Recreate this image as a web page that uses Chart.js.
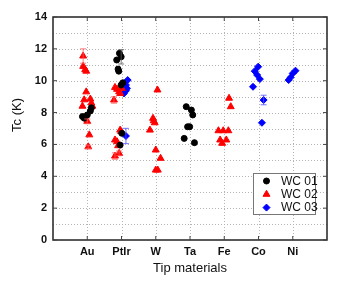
<!DOCTYPE html>
<html>
<head>
<meta charset="utf-8">
<script src="https://cdn.jsdelivr.net/npm/chart.js@4.4.1/dist/chart.umd.min.js"></script>
<style>
  html, body { margin: 0; padding: 0; background: #fff; }
</style>
</head>
<body>
<canvas id="plot" width="337" height="284"></canvas>
<script>
// tip materials on the x axis (positions 1..7)
const tipNames = ['Au', 'PtIr', 'W', 'Ta', 'Fe', 'Co', 'Ni'];
const yTicks = [0, 2, 4, 6, 8, 10, 12, 14];

// [x position, Tc (K), error]
const wc01 = [
    [0.86, 7.75, 0], [0.91, 7.65, 0], [1.00, 7.85, 0], [1.09, 8.10, 0], [1.12, 8.30, 0],
    [1.94, 11.72, 0], [1.99, 11.50, 0.45], [1.86, 11.30, 0], [1.90, 10.73, 0], [1.92, 10.60, 0],
    [2.04, 9.87, 0], [1.99, 9.73, 0], [2.01, 6.70, 0], [1.96, 5.96, 0],
    [3.89, 8.37, 0], [4.04, 8.16, 0], [4.08, 7.85, 0], [3.93, 7.11, 0], [3.99, 7.11, 0],
    [3.83, 6.38, 0], [4.13, 6.11, 0]
];
const wc02 = [
    [0.88, 11.55, 0.45], [0.88, 10.90, 0], [0.94, 10.70, 0], [0.97, 10.60, 0], [0.97, 9.30, 0],
    [0.91, 8.80, 0], [1.09, 8.85, 0], [1.12, 8.60, 0], [0.86, 8.40, 0], [1.15, 8.40, 0],
    [1.00, 7.45, 0.15], [1.06, 6.60, 0], [1.03, 5.85, 0.1],
    [1.81, 9.58, 0], [1.87, 9.46, 0], [2.01, 9.52, 0], [1.93, 9.31, 0], [1.96, 9.20, 0],
    [1.78, 8.79, 0.2], [1.96, 6.90, 0], [1.99, 6.80, 0], [1.81, 6.28, 0], [1.87, 6.17, 0],
    [1.90, 5.92, 0], [1.93, 5.44, 0.15], [1.81, 5.27, 0.2],
    [3.05, 9.42, 0], [2.92, 7.64, 0], [2.94, 7.49, 0], [2.97, 7.36, 0], [2.83, 6.90, 0],
    [3.00, 5.65, 0], [3.14, 5.13, 0], [3.06, 4.39, 0], [3.00, 4.39, 0],
    [5.14, 8.90, 0], [5.19, 8.37, 0], [4.83, 6.86, 0], [4.97, 6.86, 0], [5.12, 6.86, 0],
    [4.88, 6.28, 0], [4.94, 6.07, 0], [5.06, 6.28, 0]
];
const wc03 = [
    [2.18, 10.04, 0], [2.13, 9.73, 0], [2.16, 9.52, 0], [2.13, 9.37, 0], [2.07, 9.20, 0],
    [2.13, 6.53, 0.48],
    [5.99, 10.88, 0], [5.89, 10.60, 0], [5.96, 10.36, 0], [6.04, 10.10, 0], [5.84, 9.62, 0],
    [6.15, 8.79, 0.3], [6.10, 7.36, 0],
    [7.08, 10.63, 0], [7.00, 10.46, 0], [6.94, 10.21, 0], [6.88, 10.04, 0]
];

function toPoints(arr) {
    return arr.map(p => ({ x: p[0], y: p[1], err: p[2] }));
}

const font = '"Liberation Sans", Arial, sans-serif';

const extras = {
    id: 'extras',
    beforeDatasetsDraw(chart) {
        // dotted grid
        const ctx = chart.ctx;
        const a = chart.chartArea;
        const xs = chart.scales.x, ys = chart.scales.y;
        ctx.save();
        ctx.strokeStyle = '#b4b4b4';
        ctx.lineWidth = 1;
        ctx.setLineDash([1, 2]);
        ctx.beginPath();
        for (let i = 1; i <= tipNames.length; i++) {
            const px = Math.round(xs.getPixelForValue(i)) + 0.5;
            ctx.moveTo(px, a.top); ctx.lineTo(px, a.bottom);
        }
        for (let v = 1; v < 14; v++) {
            const py = Math.round(ys.getPixelForValue(v)) + 0.5;
            ctx.moveTo(a.left, py); ctx.lineTo(a.right, py);
        }
        ctx.stroke();
        ctx.restore();
    },
    afterDatasetsDraw(chart) {
        const ctx = chart.ctx;
        const a = chart.chartArea;
        const xs = chart.scales.x, ys = chart.scales.y;
        ctx.save();
        // error bars
        chart.data.datasets.forEach(ds => {
            ctx.strokeStyle = ds.errColor;
            ctx.lineWidth = 1;
            ds.data.forEach(p => {
                if (!p.err) return;
                const px = xs.getPixelForValue(p.x);
                const y1 = ys.getPixelForValue(p.y - p.err);
                const y2 = ys.getPixelForValue(p.y + p.err);
                ctx.beginPath();
                ctx.moveTo(px, y1); ctx.lineTo(px, y2);
                ctx.moveTo(px - 3, y1); ctx.lineTo(px + 3, y1);
                ctx.moveTo(px - 3, y2); ctx.lineTo(px + 3, y2);
                ctx.stroke();
            });
        });
        // frame
        ctx.strokeStyle = '#222';
        ctx.lineWidth = 1.5;
        ctx.strokeRect(a.left, a.top, a.right - a.left, a.bottom - a.top);
        // inward ticks
        ctx.lineWidth = 1;
        ctx.strokeStyle = '#444';
        ctx.beginPath();
        for (let i = 1; i <= tipNames.length; i++) {
            const px = xs.getPixelForValue(i);
            ctx.moveTo(px, a.bottom); ctx.lineTo(px, a.bottom - 4);
            ctx.moveTo(px, a.top); ctx.lineTo(px, a.top + 4);
        }
        yTicks.forEach(v => {
            const py = ys.getPixelForValue(v);
            ctx.moveTo(a.left, py); ctx.lineTo(a.left + 4, py);
            ctx.moveTo(a.right, py); ctx.lineTo(a.right - 4, py);
        });
        ctx.stroke();
        // axis titles
        ctx.fillStyle = '#111';
        ctx.font = '13px ' + font;
        ctx.textAlign = 'center';
        ctx.textBaseline = 'middle';
        ctx.fillText('Tip materials', (a.left + a.right) / 2, 268);
        ctx.translate(17, 115);
        ctx.rotate(-Math.PI / 2);
        ctx.fillText('Tc (K)', 0, 0);
        ctx.setTransform(1, 0, 0, 1, 0, 0);
        // legend box
        const bx = 253, by = 173, bw = 62, bh = 41;
        ctx.fillStyle = '#fff';
        ctx.fillRect(bx, by, bw, bh);
        ctx.strokeStyle = '#777';
        ctx.strokeRect(bx + 0.5, by + 0.5, bw, bh);
        ctx.font = '12px ' + font;
        ctx.textAlign = 'left';
        chart.data.datasets.forEach((ds, i) => {
            const ly = 181 + i * 13.3;
            ctx.fillStyle = ds.backgroundColor;
            ctx.strokeStyle = ds.borderColor;
            Chart.helpers.drawPoint(ctx, {
                pointStyle: ds.pointStyle,
                radius: ds.pointRadius,
                borderWidth: 1
            }, 266.5, ly);
            ctx.fillStyle = '#111';
            ctx.fillText(ds.label, 281, ly + 0.5);
        });
        ctx.restore();
    }
};

const ctx = document.getElementById('plot').getContext('2d');
const myChart = new Chart(ctx, {
    type: 'scatter',
    data: {
        datasets: [{
            label: 'WC 01',
            data: toPoints(wc01),
            pointStyle: 'circle',
            pointRadius: 3,
            backgroundColor: '#000',
            borderColor: '#000',
            errColor: 'rgba(90,90,90,0.8)'
        }, {
            label: 'WC 02',
            data: toPoints(wc02),
            pointStyle: 'triangle',
            pointRadius: 4,
            backgroundColor: '#ff0000',
            borderColor: '#ff0000',
            errColor: 'rgba(255,90,90,0.8)'
        }, {
            label: 'WC 03',
            data: toPoints(wc03),
            pointStyle: 'rectRot',
            pointRadius: 3.5,
            backgroundColor: '#0000ff',
            borderColor: '#0000ff',
            errColor: 'rgba(80,80,255,0.8)'
        }]
    },
    options: {
        responsive: false,
        animation: false,
        layout: { padding: { top: 17, right: 10, left: 0, bottom: 0 } },
        plugins: { legend: { display: false }, tooltip: { enabled: false } },
        scales: {
            x: {
                type: 'linear',
                min: 0, max: 8,
                afterFit: s => { s.height = 44; },
                afterBuildTicks: s => { s.ticks = [0, 1, 2, 3, 4, 5, 6, 7, 8].map(v => ({ value: v })); },
                ticks: {
                    padding: 5,
                    color: '#111',
                    font: { family: font, size: 11, weight: 'bold' },
                    callback: v => tipNames[v - 1] || ''
                },
                grid: { display: false, drawTicks: false },
                border: { display: false }
            },
            y: {
                min: 0, max: 14,
                afterFit: s => { s.width = 53; },
                afterBuildTicks: s => { s.ticks = yTicks.map(v => ({ value: v })); },
                ticks: {
                    padding: 6,
                    color: '#111',
                    font: { family: font, size: 11, weight: 'bold' }
                },
                grid: { display: false, drawTicks: false },
                border: { display: false }
            }
        }
    },
    plugins: [extras]
});
</script>
</body>
</html>
